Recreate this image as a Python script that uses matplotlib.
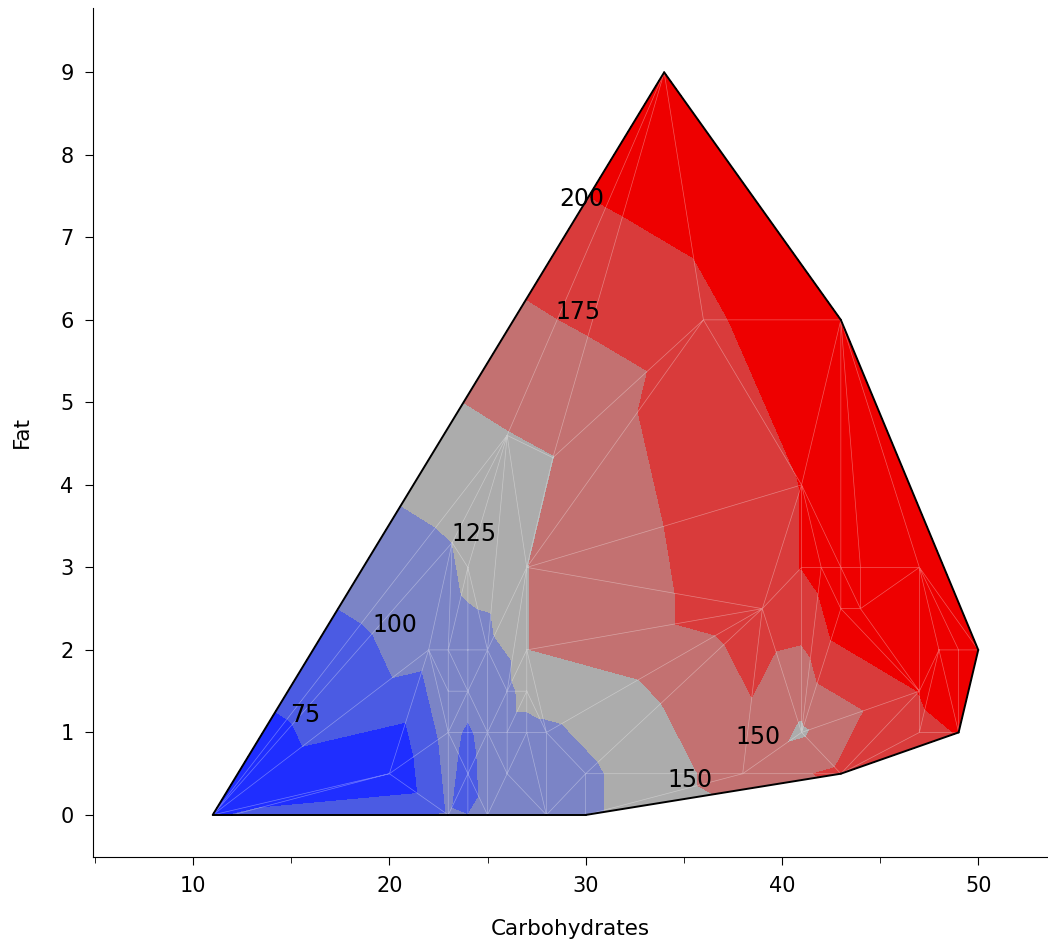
import matplotlib
matplotlib.use("Agg")
import matplotlib.pyplot as plt
import matplotlib.tri as mtri
from matplotlib.ticker import MultipleLocator

carbs = [11, 12, 23, 24, 25, 28, 30,
         20, 24, 26, 30, 38, 43,
         23, 24, 25, 26, 27, 28, 41, 47, 49,
         23, 24, 26, 27, 47,
         22, 23, 24, 25, 27, 48, 49, 50,
         39, 43, 44,
         24, 27, 41, 42, 43, 44, 47,
         23.2, 41, 28.33, 26,
         36, 43, 34]
fat = [0, 0, 0, 0, 0, 0, 0,
       0.5, 0.5, 0.5, 0.5, 0.5, 0.5,
       1, 1, 1, 1, 1, 1, 1, 1, 1,
       1.5, 1.5, 1.5, 1.5, 1.5,
       2, 2, 2, 2, 2, 2, 2, 2,
       2.5, 2.5, 2.5,
       3, 3, 3, 3, 3, 3, 3,
       3.3, 4, 4.33, 4.6,
       6, 6, 9]
calories = [50, 80, 102, 100, 108, 115, 120,
            50, 90, 110, 120, 162, 180,
            110, 95, 112, 115, 115, 120, 146, 194, 201,
            112, 114, 117, 135, 200.5,
            110, 115, 118, 120, 149.5, 215, 215, 220,
            190, 218, 215,
            130, 149.5, 200.5, 210, 215, 220, 230,
            125, 200.5, 149.5, 149,
            190, 245, 230]

# triangle edges seen in the reference mesh (not all of them are Delaunay)
mesh_edges = [((12, 0), (20, 0.5)), ((11, 0), (20, 0.5)), ((11, 0), (22, 2)),
              ((11, 0), (23.2, 3.3)), ((26, 4.6), (34, 9)), ((28.33, 4.33), (34, 9)),
              ((34, 9), (36, 6)), ((28.33, 4.33), (36, 6)), ((27, 3), (36, 6)),
              ((27, 3), (41, 4)), ((27, 3), (39, 2.5)), ((27, 2), (39, 2.5)),
              ((28, 1), (39, 2.5)), ((30, 0.5), (39, 2.5)), ((38, 0.5), (39, 2.5)),
              ((41, 1), (39, 2.5)), ((41, 1), (43, 2.5)), ((41, 1), (47, 1.5))]

levels = [0, 75, 100, 125, 150, 175, 200, 300]
band_colors = ["#1f2eff", "#4b5be3", "#7b84c6", "#acacac",
               "#c37171", "#d93b3b", "#ee0000"]

# contour labels as shown on the chart
label_text = ["75", "100", "125", "150", "150", "175", "200"]
label_pos = [(15.7, 1.21), (20.3, 2.3), (24.3, 3.4), (38.8, 0.95),
             (35.3, 0.42), (29.6, 6.1), (29.8, 7.47)]


def orient(a, b, c):
    return (b[0] - a[0]) * (c[1] - a[1]) - (b[1] - a[1]) * (c[0] - a[0])


def crosses(pts, p, q, a, b):
    d1 = orient(pts[p], pts[q], pts[a])
    d2 = orient(pts[p], pts[q], pts[b])
    d3 = orient(pts[a], pts[b], pts[p])
    d4 = orient(pts[a], pts[b], pts[q])
    return d1 * d2 < 0 and d3 * d4 < 0


def force_edges(tris, pts, edges):
    # flip triangle pairs until each wanted edge is part of the mesh
    tris = [list(t) for t in tris]
    locked = set()
    for p, q in edges:
        for _ in range(500):
            if any(p in t and q in t for t in tris):
                break
            flipped = False
            for i, t in enumerate(tris):
                for k in range(3):
                    a, b = t[k], t[(k + 1) % 3]
                    if frozenset((a, b)) in locked or not crosses(pts, p, q, a, b):
                        continue
                    j = next((m for m, s in enumerate(tris) if m != i and a in s and b in s), None)
                    if j is None:
                        continue
                    c = [v for v in t if v not in (a, b)][0]
                    d = [v for v in tris[j] if v not in (a, b)][0]
                    if not crosses(pts, c, d, a, b):
                        continue
                    tris[i] = [c, d, a]
                    tris[j] = [c, d, b]
                    flipped = True
                    break
                if flipped:
                    break
            if not flipped:
                break
        locked.add(frozenset((p, q)))
    return tris


pts = list(zip(carbs, fat))
edge_idx = [(pts.index(a), pts.index(b)) for a, b in mesh_edges]
base = mtri.Triangulation(carbs, fat)
tri = mtri.Triangulation(carbs, fat, triangles=force_edges(base.triangles, pts, edge_idx))

fig = plt.figure(figsize=(10.48, 9.47), dpi=100)
ax = fig.add_axes([0.0887, 0.095, 0.9103, 0.8966])

ax.tricontourf(tri, calories, levels=levels, colors=band_colors)
ax.triplot(tri, color="white", lw=0.5, alpha=0.35)

# black outline round the convex hull
for t, tpts in enumerate(tri.triangles):
    for k in range(3):
        if tri.neighbors[t, k] == -1:
            a, b = tpts[k], tpts[(k + 1) % 3]
            ax.plot([carbs[a], carbs[b]], [fat[a], fat[b]], color="black", lw=1.4,
                    solid_capstyle="round")

for txt, (lx, ly) in zip(label_text, label_pos):
    ax.text(lx, ly, txt, fontsize=17, ha="center", va="center", color="black")

ax.set_xlim(4.9, 53.5)
ax.set_ylim(-0.51, 9.78)
ax.xaxis.set_major_locator(MultipleLocator(10))
ax.xaxis.set_minor_locator(MultipleLocator(5))
ax.yaxis.set_major_locator(MultipleLocator(1))
for side in ["top", "right"]:
    ax.spines[side].set_visible(False)
ax.tick_params(axis="both", which="major", direction="out", length=6, labelsize=15, pad=8)
ax.tick_params(axis="x", which="minor", direction="out", length=4)
ax.set_xlabel("Carbohydrates", fontsize=15.5, labelpad=16)
ax.set_ylabel("Fat", fontsize=15.5, labelpad=20)

fig.savefig("out.png", dpi=100)
